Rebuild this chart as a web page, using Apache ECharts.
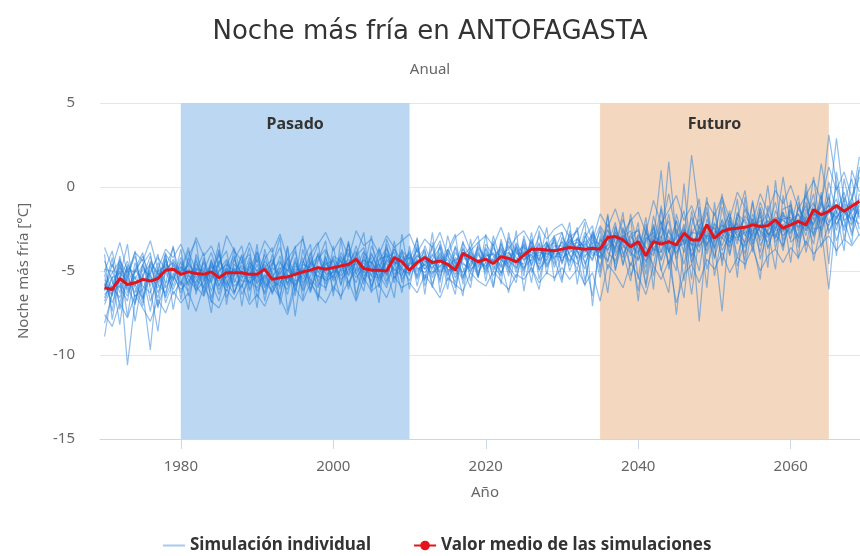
<!DOCTYPE html>
<html>
<head>
<meta charset="utf-8">
<script src="https://cdn.jsdelivr.net/npm/echarts@6/dist/echarts.min.js"></script>
<style>
  html, body { margin: 0; padding: 0; background: #fff; }
  #chart { width: 860px; height: 556px; }
</style>
</head>
<body>
<div id="chart"></div>
<script>
// años de la serie
const firstYear = 1970
const lastYear = 2069
const xTicks = [1980, 2000, 2020, 2040, 2060]

// periodos sombreados
const pasado = [1980, 2010]
const futuro = [2035, 2065]

// valor medio de las simulaciones (1970-2069)
const mediaSim = [
  -6.0, -6.1, -5.45, -5.8, -5.7, -5.5, -5.6, -5.45, -4.95, -4.9,
  -5.2, -5.05, -5.15, -5.2, -5.05, -5.4, -5.1, -5.1, -5.1, -5.2,
  -5.2, -4.9, -5.5, -5.4, -5.35, -5.2, -5.05, -4.95, -4.8, -4.9,
  -4.8, -4.7, -4.6, -4.3, -4.85, -4.95, -4.95, -5.0, -4.2, -4.45,
  -4.95, -4.5, -4.2, -4.5, -4.4, -4.6, -4.95, -3.95, -4.2, -4.45,
  -4.3, -4.55, -4.15, -4.25, -4.45, -4.05, -3.7, -3.7, -3.75, -3.8,
  -3.7, -3.6, -3.65, -3.7, -3.65, -3.7, -3.0, -2.95, -3.15, -3.55,
  -3.25, -4.1, -3.25, -3.4, -3.25, -3.45, -2.75, -3.15, -3.15, -2.25,
  -3.05, -2.65, -2.5, -2.45, -2.4, -2.25, -2.35, -2.3, -1.95, -2.45,
  -2.25, -2.05, -2.25, -1.35, -1.65, -1.45, -1.1, -1.45, -1.15, -0.85
]

// simulaciones individuales (estimadas a ojo)
const sim1 = [
  -5.2,-7.4,-4.6,-6.1,-5.0,-4.3,-6.8,-5.5,-4.4,-5.9,
  -4.7,-5.8,-4.2,-6.3,-5.1,-4.0,-5.6,-6.4,-4.8,-5.3,
  -4.1,-5.7,-6.2,-4.5,-5.0,-3.8,-5.9,-4.6,-5.4,-4.2,
  -5.5,-3.9,-4.8,-5.7,-4.1,-6.0,-4.4,-3.6,-5.2,-4.6,
  -3.8,-5.3,-4.2,-4.9,-3.5,-5.6,-4.4,-3.9,-5.1,-4.0,
  -4.8,-3.4,-5.2,-3.9,-4.5,-3.1,-4.7,-3.6,-4.2,-2.9,
  -4.4,-3.3,-2.6,-4.6,-3.5,-5.4,-2.8,-3.7,-2.4,-4.1,
  -3.0,-5.2,-2.2,-3.9,-1.6,-4.3,-2.5,-3.4,-5.0,-1.9,
  -3.3,-2.0,-4.1,-1.5,-2.8,-3.6,-1.2,-2.9,-2.1,-3.8,
  -1.4,-2.6,-0.9,-3.0,-1.8,-0.6,-2.3,-1.1,-2.7,-0.4
]
const sim2 = [
  -6.6,-5.3,-8.2,-4.9,-6.0,-7.1,-4.7,-5.8,-6.3,-4.6,
  -5.9,-4.5,-5.4,-4.8,-6.6,-5.0,-4.3,-5.5,-6.0,-4.7,
  -5.6,-4.4,-5.1,-6.5,-4.6,-5.3,-4.2,-6.1,-4.8,-5.4,
  -4.3,-5.8,-4.5,-3.8,-5.3,-4.7,-5.9,-4.2,-3.9,-5.5,
  -4.6,-3.7,-5.5,-4.3,-5.0,-3.9,-6.0,-4.1,-3.6,-5.2,
  -3.7,-4.9,-3.8,-5.3,-3.5,-4.4,-3.2,-5.0,-3.9,-4.3,
  -3.2,-4.0,-4.9,-2.9,-3.8,-2.6,-4.5,-2.3,-3.9,-5.6,
  -2.8,-3.6,-4.7,-2.1,-3.9,-2.9,-1.4,-4.2,-2.6,-3.5,
  -2.1,-4.4,-2.5,-3.2,-1.7,-2.4,-3.9,-1.6,-3.0,-2.2,
  -3.1,-1.2,-2.0,-3.4,-0.8,-2.1,-1.5,-0.3,-2.2,-1.0
]
const sim3 = [
  -8.9,-6.1,-5.0,-10.6,-6.8,-5.2,-7.4,-4.8,-6.0,-5.1,
  -6.3,-5.2,-5.9,-4.4,-5.7,-6.8,-4.9,-5.3,-4.1,-6.2,
  -4.9,-6.3,-4.4,-5.6,-6.1,-4.7,-5.2,-3.9,-5.7,-6.0,
  -4.9,-4.4,-6.1,-4.2,-5.5,-3.9,-5.2,-6.0,-4.3,-4.8,
  -5.6,-4.2,-3.7,-5.8,-4.4,-4.8,-3.6,-5.3,-4.5,-3.9,
  -5.0,-4.2,-3.6,-4.7,-5.4,-3.8,-4.1,-2.9,-4.6,-3.7,
  -4.1,-2.8,-3.9,-4.4,-6.5,-3.3,-2.5,-4.1,-3.0,-2.6,
  -4.4,-3.1,-2.7,-5.0,-3.2,-7.6,-3.6,-1.8,-3.3,-2.4,
  -3.7,-1.9,-3.1,-2.3,-4.0,-1.6,-2.7,-3.3,-1.4,-2.6,
  -2.0,-3.3,-1.6,-0.9,-2.5,-6.1,-1.4,-2.4,-0.6,-1.9
]
const sim4 = [
  -4.4,-5.6,-6.9,-5.3,-4.1,-6.2,-9.7,-5.0,-4.7,-5.6,
  -4.4,-5.5,-6.1,-5.0,-3.9,-5.4,-6.2,-4.6,-5.1,-5.7,
  -5.3,-4.0,-5.8,-5.0,-6.4,-4.5,-5.5,-4.7,-4.1,-5.2,
  -5.1,-4.6,-3.7,-5.0,-4.5,-5.3,-4.0,-5.6,-4.7,-3.8,
  -4.3,-5.0,-4.6,-3.6,-5.3,-4.1,-4.8,-5.5,-3.8,-4.6,
  -4.1,-5.3,-4.4,-3.5,-4.2,-4.9,-3.6,-4.3,-3.2,-4.8,
  -3.6,-4.7,-3.1,-3.6,-2.9,-4.3,-3.4,-2.1,-4.6,-3.2,
  -6.8,-2.6,-3.8,-2.9,-4.6,-2.5,-3.9,-2.8,-1.9,-4.0,
  -2.6,-3.1,-1.8,-4.2,-2.3,-2.9,-1.7,-3.6,-2.4,-1.5,
  -2.6,-1.9,-3.5,-1.3,-2.1,-1.0,-3.2,-1.7,-0.9,-2.5
]
const sim5 = [
  -5.5,-6.4,-4.3,-5.9,-7.0,-5.2,-4.6,-6.3,-5.1,-4.3,
  -5.1,-3.8,-5.0,-5.6,-4.4,-5.9,-4.7,-3.6,-5.4,-4.9,
  -3.9,-5.0,-4.6,-3.6,-5.4,-5.9,-4.4,-5.1,-4.3,-3.7,
  -4.7,-5.2,-3.4,-4.6,-5.8,-4.0,-4.9,-3.7,-4.4,-5.0,
  -5.1,-3.6,-4.9,-4.1,-3.2,-5.0,-4.7,-3.3,-4.2,-5.4,
  -3.4,-4.1,-4.7,-3.0,-3.9,-3.5,-5.1,-3.8,-3.3,-4.6,
  -3.0,-3.7,-4.2,-2.7,-3.4,-2.3,-3.1,-3.6,-1.9,-3.4,
  -3.9,-2.2,-4.0,-2.6,-0.4,-2.8,-3.3,1.9,-1.7,-3.1,
  -2.9,-0.8,-2.4,-3.4,-1.3,-2.8,-0.9,-2.2,-3.1,-1.3,
  -1.1,-2.4,-0.5,-1.7,-1.2,3.1,0.2,-1.5,-0.7,0.6
]
const sim6 = [
  -6.2,-4.6,-5.7,-6.5,-4.9,-5.6,-5.1,-7.2,-4.1,-6.4,
  -5.6,-6.2,-4.6,-5.2,-5.7,-4.4,-5.1,-5.9,-5.5,-4.2,
  -6.2,-5.4,-4.8,-5.2,-4.3,-6.0,-4.9,-5.5,-6.0,-4.6,
  -4.4,-5.5,-5.0,-4.1,-3.6,-5.3,-5.4,-4.5,-5.7,-3.9,
  -4.9,-4.5,-3.8,-5.1,-4.7,-4.3,-5.4,-4.0,-4.7,-3.5,
  -4.4,-3.9,-4.8,-4.1,-3.7,-5.0,-3.3,-4.6,-3.5,-4.0,
  -3.9,-3.2,-4.3,-3.7,-4.4,-2.4,-3.8,-2.7,-3.3,-4.7,
  -3.3,-4.8,-1.7,-3.5,1.5,-3.0,-4.6,-2.5,-8.0,-2.7,
  -4.2,-2.5,-1.6,-3.0,-3.6,-1.9,-3.2,-2.0,-2.8,-3.5,
  -1.9,-3.0,-1.3,-2.3,-0.5,-2.8,-1.1,-2.0,-1.5,-0.8
]
const sim7 = [
  -4.9,-5.0,-6.3,-4.6,-5.5,-4.6,-5.9,-4.5,-5.7,-5.3,
  -4.2,-5.3,-5.7,-4.5,-6.2,-5.0,-4.6,-5.0,-4.4,-5.8,
  -4.6,-5.9,-5.3,-4.8,-5.7,-5.0,-6.1,-4.4,-5.0,-5.6,
  -5.3,-4.2,-4.6,-5.4,-4.8,-4.2,-5.6,-4.9,-3.7,-4.4,
  -4.2,-5.5,-4.4,-4.6,-4.0,-5.2,-3.9,-4.5,-5.0,-4.3,
  -4.9,-3.6,-4.3,-4.6,-3.3,-4.1,-4.4,-3.7,-4.4,-3.5,
  -3.5,-4.4,-3.6,-3.2,-4.1,-3.6,-2.6,-3.3,-4.2,-2.8,
  -2.6,-4.2,-3.1,-4.3,-2.5,-3.7,-2.2,-4.1,-3.0,-1.5,
  -3.4,-7.4,-2.0,-2.7,-3.3,-1.9,-2.6,-3.0,-2.0,-2.9,
  -2.4,-1.6,-2.9,-1.0,-2.0,-1.6,-0.7,-2.6,-1.2,-1.6
]
const sim8 = [
  -7.0,-5.8,-4.8,-5.4,-6.3,-4.9,-5.3,-6.0,-4.0,-4.7,
  -5.3,-4.9,-5.5,-6.0,-4.7,-5.3,-5.8,-4.8,-5.9,-4.5,
  -5.0,-4.6,-5.6,-5.9,-4.2,-5.2,-4.8,-5.8,-3.9,-4.9,
  -4.8,-4.1,-5.3,-4.4,-5.1,-4.6,-3.7,-5.3,-4.1,-4.9,
  -5.2,-4.0,-4.7,-4.0,-4.8,-3.7,-4.9,-4.2,-3.9,-5.0,
  -4.5,-4.5,-3.4,-4.4,-4.8,-3.6,-3.9,-4.1,-3.6,-3.3,
  -4.5,-3.4,-3.1,-4.1,-3.7,-3.9,-2.2,-3.9,-3.6,-2.9,
  -3.6,-4.5,-2.9,-3.3,-3.4,-2.0,-3.4,-3.0,-3.9,-2.2,
  -2.5,-3.0,-3.6,-1.6,-2.1,-3.2,-2.3,-1.5,-3.3,-2.4,
  -2.8,-1.3,-2.2,-2.8,-1.5,-1.1,-2.6,-0.6,-1.8,-2.2
]
const sim9 = [
  -5.7,-6.9,-5.4,-4.4,-5.8,-6.6,-4.5,-5.2,-5.0,-6.1,
  -5.0,-4.7,-6.2,-5.6,-4.8,-4.7,-6.0,-5.2,-4.7,-5.0,
  -5.4,-4.8,-4.3,-5.3,-5.5,-4.9,-5.0,-6.3,-4.7,-5.1,
  -4.2,-5.0,-4.9,-3.5,-5.0,-5.6,-4.3,-4.1,-5.0,-4.3,
  -4.0,-4.8,-5.1,-4.5,-4.2,-4.6,-5.2,-3.7,-4.4,-4.8,
  -3.9,-4.6,-4.0,-3.7,-5.1,-3.3,-4.6,-3.4,-4.8,-3.8,
  -2.7,-4.1,-4.6,-3.4,-2.8,-4.8,-2.9,-4.6,-2.8,-3.7,
  -6.2,-3.0,-3.4,-1.3,-4.9,-3.3,-2.7,-5.5,-1.2,-3.6,
  -1.5,-3.8,-2.8,-2.1,-4.4,-0.8,-3.5,-2.5,-0.9,-3.2,
  -0.8,-3.6,-1.9,-0.4,-3.6,-2.2,0.1,-3.1,-1.0,1.8
]
const sim10 = [
  -5.0,-6.2,-5.9,-6.8,-4.5,-5.9,-6.3,-4.9,-6.6,-5.3,
  -6.1,-5.6,-4.9,-5.0,-5.3,-5.6,-4.4,-6.3,-5.0,-5.4,
  -5.2,-6.4,-5.0,-4.4,-5.8,-4.4,-5.7,-4.9,-5.3,-5.5,
  -5.0,-4.7,-4.3,-5.2,-4.3,-4.9,-4.6,-5.2,-3.6,-5.2,
  -4.5,-4.7,-4.1,-5.4,-4.1,-5.3,-4.2,-4.6,-4.8,-3.6,
  -4.3,-5.0,-4.1,-3.9,-4.4,-4.6,-3.1,-4.4,-3.8,-4.2,
  -3.8,-3.0,-3.8,-4.2,-3.3,-3.7,-3.5,-2.9,-3.5,-3.9,
  -4.3,-3.3,-2.4,-4.4,-3.1,-4.0,-2.9,-3.5,-2.6,-3.8,
  -2.2,-2.8,-3.3,-2.6,-1.9,-3.0,-2.4,-2.6,-1.8,-2.0,
  -2.3,-2.1,-1.1,-2.5,-2.4,-1.4,-1.8,-1.3,-2.0,-1.3
]
const sim11 = [
  -6.8,-5.4,-5.1,-5.6,-5.9,-4.7,-5.6,-5.3,-4.6,-4.9,
  -4.8,-5.1,-4.8,-5.4,-5.0,-6.1,-5.3,-4.9,-5.6,-5.6,
  -6.0,-5.2,-5.9,-5.7,-4.9,-5.6,-5.3,-4.5,-5.1,-4.4,
  -5.6,-4.9,-4.7,-4.6,-4.4,-4.5,-5.1,-4.4,-4.6,-4.1,
  -5.0,-4.3,-4.9,-4.4,-5.1,-4.5,-5.7,-3.6,-4.9,-4.5,
  -4.7,-4.3,-5.1,-4.2,-3.9,-4.3,-4.0,-4.8,-3.4,-4.1,
  -4.2,-3.9,-3.5,-3.4,-3.9,-4.2,-2.9,-3.8,-3.2,-3.6,
  -3.4,-4.4,-3.6,-3.2,-3.8,-3.0,-2.6,-3.4,-3.5,-2.9,
  -3.0,-2.5,-2.9,-3.0,-2.7,-2.6,-2.0,-2.8,-2.6,-2.4,
  -2.7,-2.0,-2.6,-1.6,-1.8,-2.3,-1.2,-1.5,-1.9,-0.7
]
const sim12 = [
  -5.9,-5.1,-4.4,-5.2,-6.5,-6.1,-5.0,-4.2,-4.9,-4.5,
  -5.2,-4.6,-5.1,-5.9,-4.5,-5.2,-5.4,-4.3,-5.2,-5.1,
  -5.7,-5.3,-6.3,-5.4,-5.2,-5.8,-5.1,-4.2,-5.6,-4.8,
  -4.9,-5.3,-4.7,-4.2,-4.9,-5.0,-5.3,-4.0,-4.5,-4.6,
  -4.7,-4.1,-4.4,-4.8,-4.3,-4.9,-5.0,-4.3,-4.2,-4.7,
  -4.1,-4.0,-4.3,-4.8,-4.0,-3.9,-4.2,-3.9,-4.0,-3.8,
  -3.7,-3.5,-3.3,-3.9,-3.2,-3.4,-3.7,-3.1,-2.9,-3.5,
  -2.9,-3.6,-4.1,-2.4,-3.0,-3.5,-3.4,-2.7,-2.8,-3.4,
  -2.8,-2.3,-2.5,-2.2,-2.9,-2.1,-2.4,-2.0,-2.5,-1.9,
  -1.8,-2.4,-2.1,-1.5,-2.2,-1.3,-1.9,-1.0,-1.4,-0.9
]
const sim13 = [
  -3.6,-4.8,-3.3,-5.1,-3.9,-4.4,-3.2,-4.9,-3.7,-4.2,
  -3.4,-4.6,-3.0,-4.1,-3.5,-4.7,-2.9,-3.8,-4.4,-3.3,
  -4.5,-3.2,-3.9,-2.8,-4.3,-3.6,-3.1,-4.6,-3.4,-2.7,
  -3.8,-3.0,-4.2,-2.6,-3.5,-3.1,-4.0,-2.9,-3.6,-3.2,
  -2.8,-3.9,-3.1,-3.6,-2.7,-4.1,-3.0,-2.6,-3.8,-3.3,
  -2.9,-3.5,-2.4,-3.7,-3.0,-2.6,-3.4,-2.3,-3.1,-2.5,
  -2.2,-3.0,-2.6,-1.9,-3.2,-1.6,-2.4,-1.3,-2.8,-2.0,
  -1.5,-2.7,-0.8,-2.2,-1.4,-0.5,-2.0,-1.1,-2.5,-0.9,
  -1.7,-0.6,-1.9,-0.3,-1.2,-2.1,-0.4,-1.5,-0.2,-1.0,
  0.1,-1.3,-0.5,0.4,-0.8,1.2,-0.2,0.9,-0.6,1.0
]
const sim14 = [
  -7.6,-8.3,-6.9,-7.8,-6.4,-7.2,-8.0,-6.7,-7.5,-6.2,
  -6.9,-6.3,-7.4,-5.9,-6.8,-7.2,-6.1,-6.7,-5.8,-7.0,
  -6.4,-7.1,-5.9,-6.6,-7.6,-6.0,-6.8,-5.7,-6.4,-6.9,
  -5.9,-6.5,-5.6,-6.8,-5.4,-6.2,-5.8,-6.6,-5.3,-6.0,
  -5.7,-6.3,-5.2,-5.9,-6.6,-5.4,-5.8,-6.2,-5.1,-5.6,
  -5.9,-5.0,-5.6,-6.1,-5.2,-5.5,-4.8,-5.7,-5.1,-5.4,
  -4.8,-5.5,-4.9,-5.8,-5.1,-6.8,-4.6,-5.2,-6.0,-4.5,
  -5.3,-6.4,-4.7,-5.5,-4.4,-6.9,-5.2,-4.6,-5.7,-4.3,
  -4.9,-3.9,-5.1,-4.2,-4.6,-3.6,-5.0,-4.1,-3.7,-4.5,
  -3.6,-4.2,-3.2,-4.0,-3.4,-2.9,-3.8,-3.1,-3.5,-2.8
]
const sim15 = [
  -4.0,-7.9,-5.3,-3.4,-6.9,-4.6,-3.9,-7.1,-5.8,-3.5,
  -6.7,-4.1,-3.2,-6.5,-5.4,-3.3,-7.0,-4.3,-3.5,-6.1,
  -3.4,-6.8,-4.7,-3.0,-7.4,-5.5,-2.9,-6.2,-4.4,-3.2,
  -6.5,-3.1,-5.9,-4.1,-2.7,-6.3,-3.6,-5.0,-6.6,-2.8,
  -5.3,-3.0,-6.4,-3.3,-5.7,-2.9,-4.6,-6.5,-3.1,-5.4,
  -2.8,-5.9,-3.3,-5.1,-2.6,-6.2,-3.5,-4.4,-2.4,-5.6,
  -3.9,-2.1,-5.8,-3.0,-2.3,-5.1,-1.6,-4.9,-3.2,-1.9,
  -5.5,-2.4,-6.1,-1.1,-3.8,-5.0,0.2,-4.6,-2.2,-6.0,
  -0.9,-4.7,-1.8,-5.4,-0.6,-3.9,-1.3,-4.8,0.4,-3.6,
  -1.0,-4.3,0.2,-2.9,-0.3,-4.6,0.9,-2.0,-3.4,1.2
]
const sim16 = [
  -6.1,-4.2,-7.3,-5.5,-3.8,-6.7,-5.2,-4.0,-6.9,-5.6,
  -3.7,-6.5,-5.0,-3.9,-6.9,-4.5,-3.8,-6.3,-5.2,-3.6,
  -6.6,-4.3,-3.6,-7.0,-5.1,-3.5,-6.7,-4.0,-3.3,-6.2,
  -3.5,-5.9,-3.2,-6.4,-4.9,-2.9,-6.0,-3.4,-5.5,-3.7,
  -6.1,-3.4,-5.6,-2.7,-6.3,-3.8,-2.8,-5.8,-3.6,-2.9,
  -5.6,-3.2,-5.8,-2.7,-4.9,-3.4,-5.7,-2.6,-5.2,-3.0,
  -5.5,-3.6,-2.4,-5.6,-3.4,-4.2,-1.7,-5.0,-2.5,-3.8,
  -2.1,-6.0,-3.2,1.0,-3.9,-2.0,-5.6,-1.4,-3.6,-0.6,
  -4.3,-1.2,-3.5,-0.7,-4.9,-2.1,-3.0,0.1,-3.7,-1.5,
  -4.5,-0.9,-2.6,0.6,-3.0,-0.4,-4.1,0.5,-1.6,-2.9
]
const sim17 = [
  -8.1,-6.4,-4.5,-7.7,-4.9,-3.9,-6.1,-8.6,-4.8,-3.6,
  -5.5,-7.3,-4.0,-5.2,-7.5,-3.8,-5.9,-3.7,-7.1,-4.4,
  -7.2,-3.7,-5.3,-6.7,-3.6,-7.7,-4.5,-3.4,-6.8,-4.1,
  -6.2,-4.8,-3.3,-6.7,-3.9,-4.5,-6.9,-3.1,-4.4,-6.3,
  -3.5,-5.9,-3.9,-6.0,-3.4,-5.0,-6.4,-3.2,-5.6,-3.7,
  -5.2,-2.9,-4.5,-6.3,-3.4,-5.3,-2.7,-5.5,-3.6,-2.9,
  -2.7,-5.0,-3.7,-2.1,-7.1,-2.9,-4.9,-3.6,-1.5,-5.3,
  -4.1,-1.8,-5.3,-3.0,-2.0,-4.4,-6.6,-2.3,-0.7,-4.9,
  -3.1,-0.4,-4.0,-1.9,-0.2,-3.3,-5.5,-1.1,-2.6,0.6,
  -2.3,-0.5,-3.9,-1.9,1.4,-1.2,2.9,-0.9,0.5,-1.8
]
const sim18 = [
  -5.0,-3.8,-6.0,-4.7,-8.0,-5.4,-4.1,-5.7,-3.9,-7.3,
  -4.9,-3.6,-6.4,-4.2,-5.6,-3.7,-6.6,-5.3,-4.0,-6.8,
  -3.8,-5.8,-4.0,-6.1,-3.5,-6.5,-3.7,-5.6,-6.6,-3.8,
  -5.0,-6.7,-3.9,-5.1,-6.2,-3.5,-4.6,-5.8,-3.2,-5.7,
  -4.4,-3.1,-5.9,-4.3,-3.6,-6.1,-3.5,-4.8,-6.0,-3.3,
  -4.5,-6.0,-3.1,-4.9,-5.7,-2.9,-4.8,-6.1,-3.3,-4.3,
  -5.7,-2.6,-4.3,-5.9,-2.7,-3.6,-6.3,-2.6,-4.7,-1.6,
  -3.8,-5.8,-2.3,-4.9,-6.3,-1.6,-3.3,-6.4,-2.9,-1.2,
  -5.3,-2.9,-1.4,-4.7,-3.2,-0.9,-4.3,-2.6,-4.9,-0.5,
  -3.3,-2.8,-0.2,-4.4,-2.3,0.3,-1.5,-3.8,1.0,-0.3
]
const sim19 = [
  -5.8,-6.5,-4.1,-6.3,-5.3,-6.9,-4.4,-5.1,-6.5,-4.4,
  -5.8,-4.2,-5.9,-6.5,-4.3,-5.9,-5.0,-4.1,-6.4,-5.5,
  -4.3,-6.0,-5.5,-4.1,-5.9,-4.2,-6.2,-5.3,-4.0,-5.8,
  -4.1,-4.4,-5.7,-4.9,-3.8,-5.9,-4.7,-3.9,-5.4,-4.8,
  -3.9,-5.4,-3.5,-4.6,-5.5,-3.7,-4.5,-5.1,-4.0,-5.3,
  -3.6,-4.7,-5.3,-3.2,-4.6,-4.0,-3.5,-4.9,-4.3,-3.1,
  -4.6,-3.1,-3.8,-4.9,-2.6,-3.9,-4.4,-2.4,-4.0,-3.1,
  -2.5,-3.9,-3.4,-2.0,-4.6,-3.3,-2.4,-4.5,-3.1,-2.6,
  -3.6,-2.2,-3.3,-1.8,-3.5,-2.8,-1.5,-3.7,-2.1,-2.7,
  -1.3,-3.1,-1.8,-2.2,-0.9,-2.6,-1.9,-0.8,-2.9,-1.4
]
const sim20 = [
  -6.4,-5.9,-6.6,-4.8,-5.1,-4.1,-5.4,-6.6,-4.3,-5.5,
  -4.5,-5.9,-4.4,-5.5,-4.6,-6.4,-4.8,-5.7,-4.5,-4.0,
  -5.8,-4.7,-6.4,-4.9,-4.5,-6.2,-4.6,-4.8,-5.9,-4.5,
  -5.4,-4.3,-5.2,-3.9,-5.6,-4.4,-5.5,-4.3,-4.9,-5.3,
  -4.1,-4.9,-4.6,-5.2,-3.9,-4.7,-4.3,-5.4,-4.1,-4.4,
  -4.0,-4.4,-3.7,-4.5,-3.6,-4.8,-4.3,-3.3,-4.7,-3.9,
  -3.3,-4.5,-3.0,-3.7,-4.3,-3.1,-3.9,-4.4,-3.0,-3.5,
  -4.0,-2.7,-3.7,-3.9,-2.6,-3.9,-3.1,-3.8,-2.4,-3.0,
  -2.4,-3.5,-2.2,-2.9,-2.5,-3.4,-2.2,-2.8,-2.9,-1.7,
  -2.0,-1.6,-2.4,-1.8,-2.6,-1.3,-2.2,-1.5,-2.3,-1.1
]
const simulaciones = [
  sim1, sim2, sim3, sim4, sim5, sim6, sim7, sim8, sim9, sim10,
  sim11, sim12, sim13, sim14, sim15, sim16, sim17, sim18, sim19, sim20
]

const years = []
for (let y = firstYear; y <= lastYear; y++) years.push(y)
const pairs = (vals) => vals.map((v, i) => [years[i], v])

const baseFont = 'Noto Sans'

let series = [
  {
    // solo las bandas de fondo
    type: 'line',
    name: 'bandas',
    data: [],
    z: 1,
    silent: true,
    markArea: {
      silent: true,
      label: {
        position: 'insideTop',
        distance: 13,
        fontFamily: baseFont,
        fontSize: 16,
        fontWeight: 'bold',
        color: '#333'
      },
      data: [
        [{ name: 'Pasado', xAxis: pasado[0], itemStyle: { color: '#bcd7f1' } }, { xAxis: pasado[1] }],
        [{ name: 'Futuro', xAxis: futuro[0], itemStyle: { color: '#f4d7bf' } }, { xAxis: futuro[1] }]
      ]
    }
  }
]

simulaciones.forEach((s) => {
  series.push({
    type: 'line',
    name: 'Simulación individual',
    data: pairs(s),
    symbol: 'none',
    z: 2,
    color: '#a9c9ee',
    lineStyle: { color: 'rgba(35,125,215,0.5)', width: 1.2 },
    emphasis: { disabled: true },
    animation: false
  })
})

series.push({
  type: 'line',
  name: 'Valor medio de las simulaciones',
  data: pairs(mediaSim),
  symbol: 'circle',
  symbolSize: 10,
  showSymbol: false,
  z: 5,
  color: '#e3141b',
  lineStyle: { color: '#e3141b', width: 3 },
  emphasis: { disabled: true },
  animation: false
})

let myChart = echarts.init(document.getElementById('chart'))

let option = {
  animation: false,
  title: {
    text: 'Noche más fría en ANTOFAGASTA',
    subtext: 'Anual',
    left: 'center',
    top: 14,
    itemGap: 17,
    textStyle: { fontFamily: 'DejaVu Sans', fontSize: 26, fontWeight: 'normal', color: '#333' },
    subtextStyle: { fontFamily: baseFont, fontSize: 15, color: '#666' }
  },
  legend: {
    data: [
      { name: 'Simulación individual', itemStyle: { opacity: 0 }, lineStyle: { color: '#a9c9ee', width: 2 } },
      'Valor medio de las simulaciones'
    ],
    bottom: -3,
    left: 157,
    itemWidth: 22,
    itemHeight: 12,
    itemGap: 42,
    textStyle: { fontFamily: baseFont, fontSize: 17, fontWeight: 'bold', color: '#333' }
  },
  grid: {
    left: 100,
    right: -10,
    top: 103,
    bottom: 117,
    outerBoundsMode: 'none'
  },
  xAxis: {
    type: 'value',
    min: 1969.4,
    max: 2070.4,
    name: 'Año',
    nameLocation: 'middle',
    nameGap: 46,
    nameTextStyle: { fontFamily: baseFont, fontSize: 15, color: '#666' },
    axisLine: { onZero: false, lineStyle: { color: '#ccd6eb' } },
    axisTick: { customValues: xTicks, length: 10, lineStyle: { color: '#ccd6eb' } },
    axisLabel: {
      customValues: xTicks,
      margin: 20,
      fontFamily: baseFont,
      fontSize: 15,
      color: '#666',
      formatter: (v) => String(v)
    },
    splitLine: { show: false }
  },
  yAxis: {
    type: 'value',
    min: -15,
    max: 5,
    interval: 5,
    name: 'Noche más fría [°C]',
    nameLocation: 'middle',
    nameGap: 69,
    nameTextStyle: { fontFamily: baseFont, fontSize: 15, color: '#666' },
    axisLine: { show: false },
    axisTick: { show: false },
    axisLabel: { fontFamily: baseFont, fontSize: 15, color: '#666', margin: 25 },
    splitLine: { lineStyle: { color: '#e6e6e6' } }
  },
  series: series
}

myChart.setOption(option)
</script>
</body>
</html>
